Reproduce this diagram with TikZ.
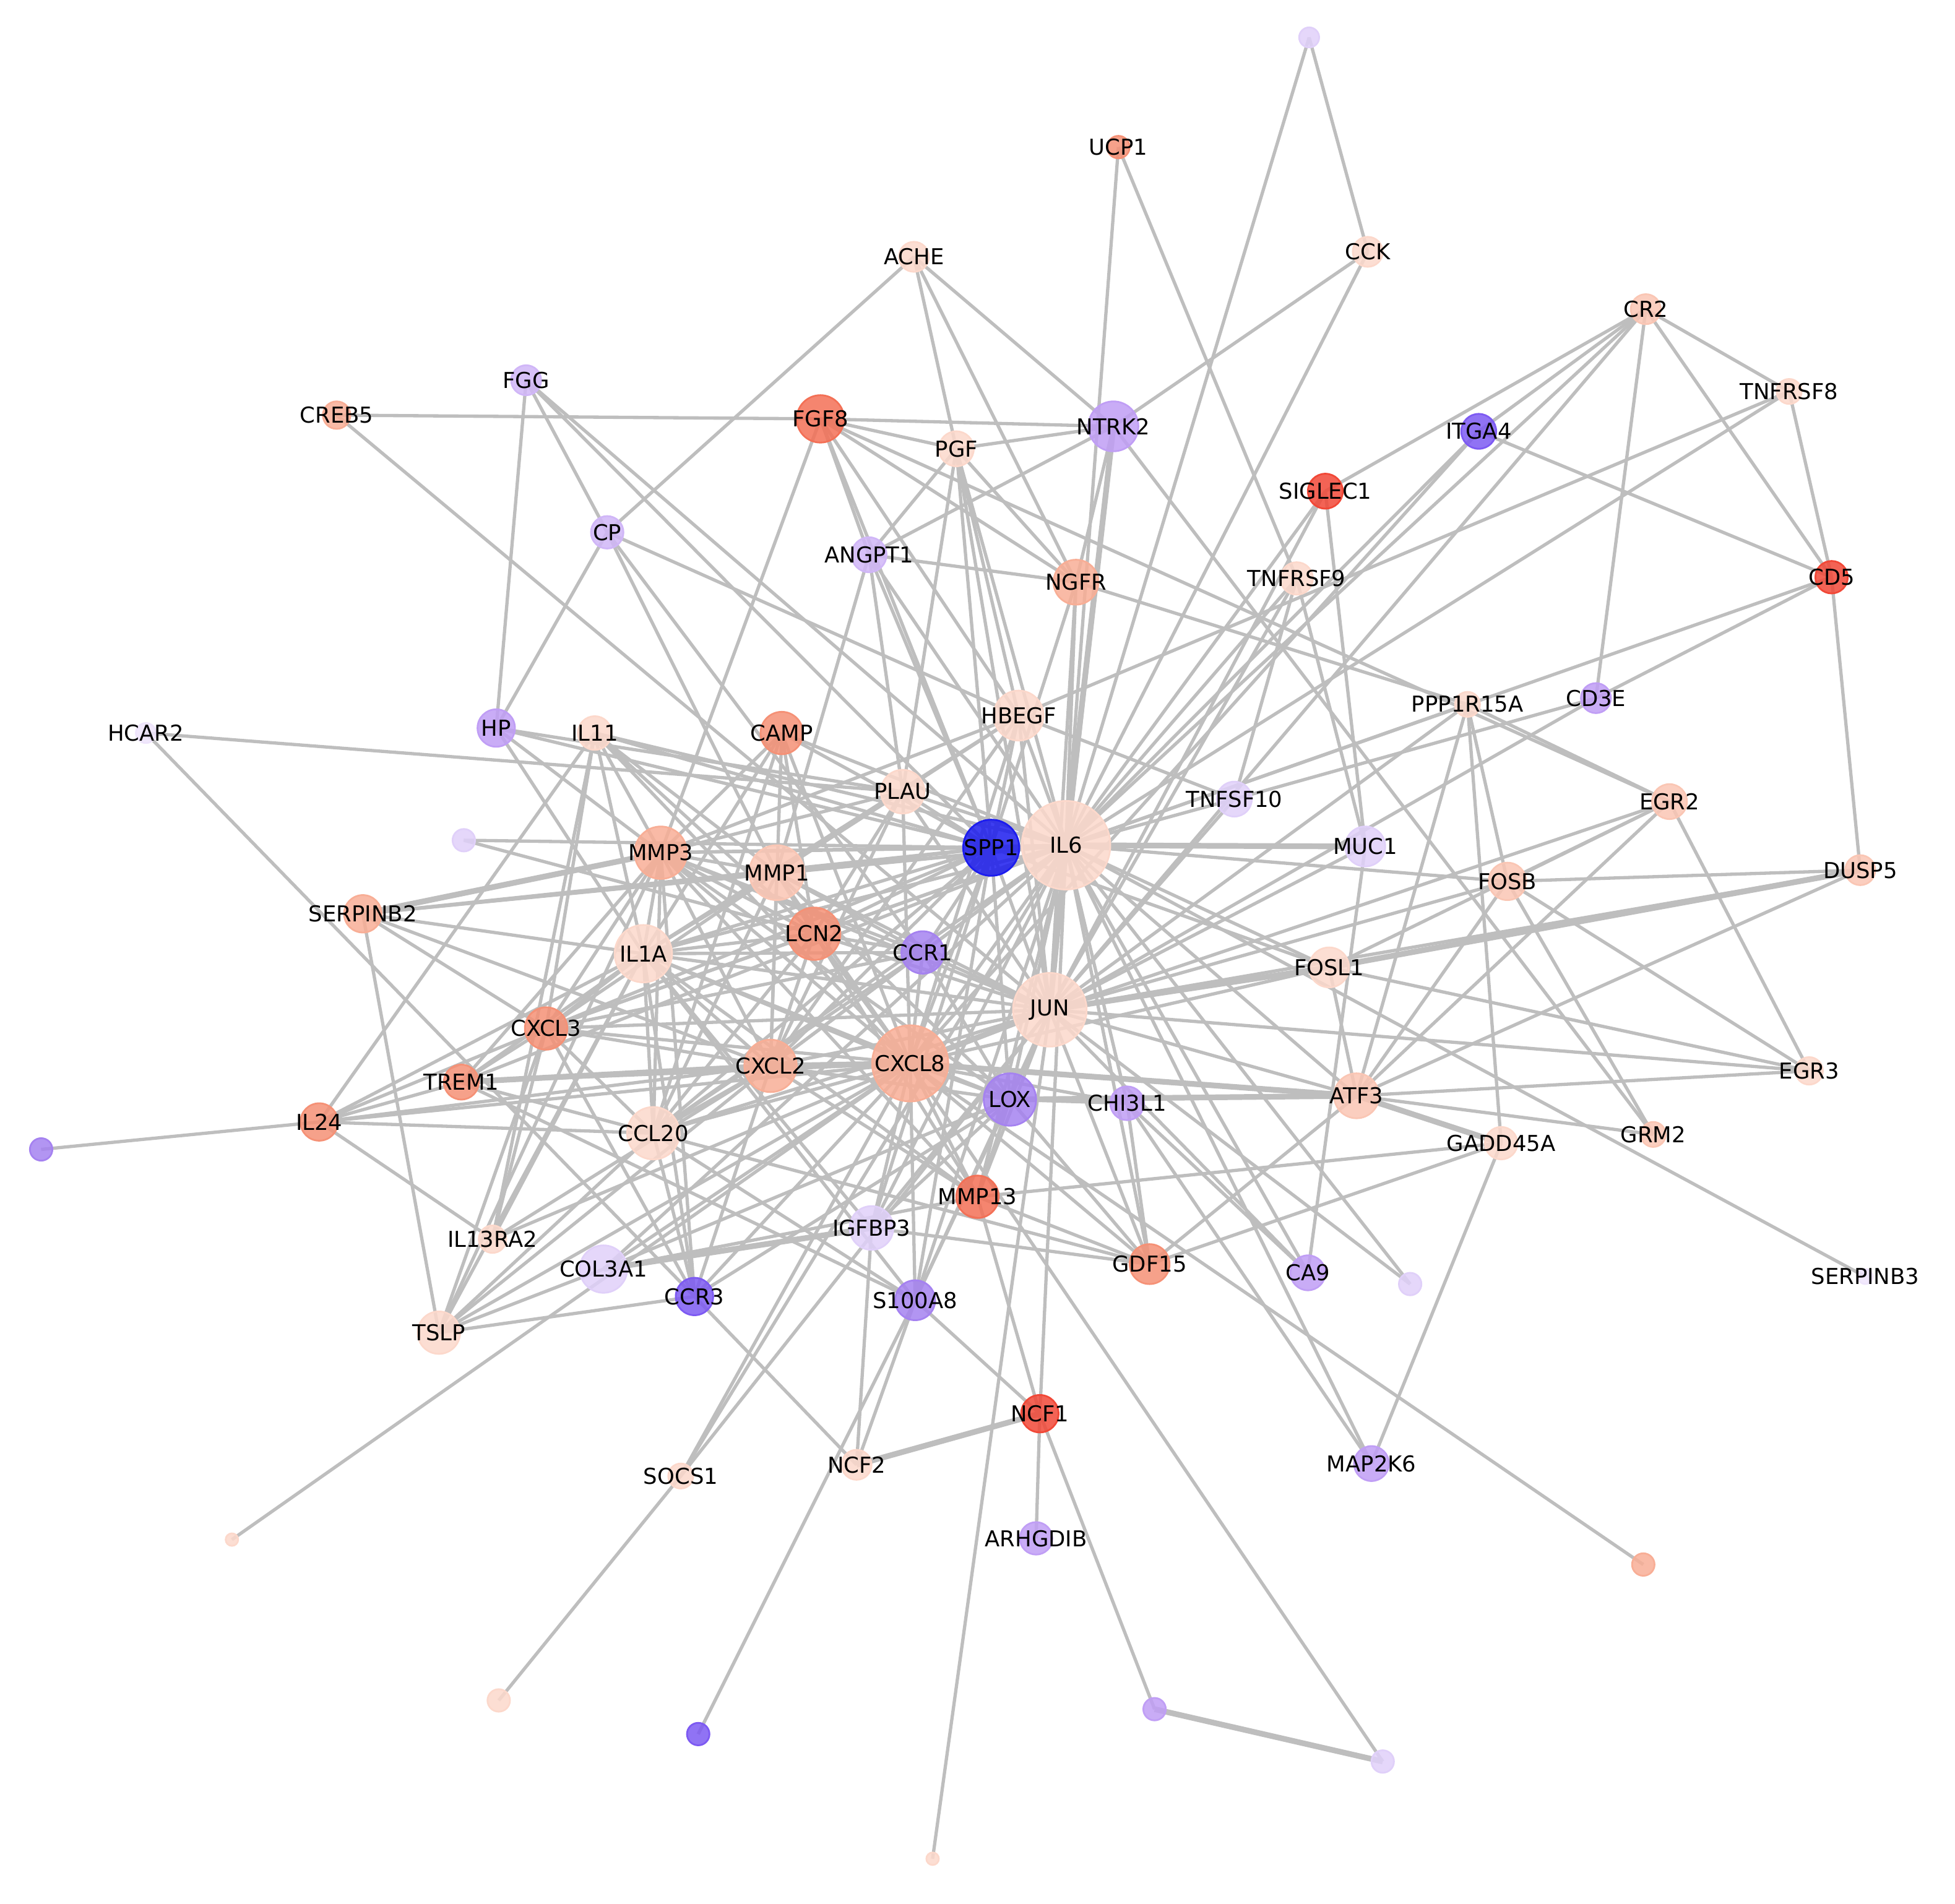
\documentclass[tikz,border=0pt]{standalone}
\usepackage{fontspec}
\setmainfont{DejaVu Sans}
\usetikzlibrary{positioning}
\definecolor{edgegray}{RGB}{190,190,190}
\definecolor{pkA}{RGB}{252,216,203}
\definecolor{pkB}{RGB}{250,198,180}
\definecolor{pkC}{RGB}{248,174,150}
\definecolor{pkD}{RGB}{245,145,118}
\definecolor{pkE}{RGB}{243,112,86}
\definecolor{pkF}{RGB}{241,72,55}
\definecolor{sppblue}{RGB}{28,28,238}
\definecolor{purA}{RGB}{125,90,242}
\definecolor{purB}{RGB}{165,130,240}
\definecolor{lavA}{RGB}{192,158,245}
\definecolor{lavB}{RGB}{208,182,247}
\definecolor{lavC}{RGB}{224,208,249}
\definecolor{lavD}{RGB}{238,228,251}

\pgfdeclarelayer{edges}
\pgfdeclarelayer{labels}
\pgfsetlayers{edges,main,labels}

% name, x, y, diameter, colour, label
\newcommand\gene[6]{%
  \node[gene,fill=#5,draw=#5,minimum size=#4*0.01cm] (#1) at (#2,#3) {};
  \begin{pgfonlayer}{labels}
    \node[genelabel] (#1-l) at (#1) {#6};
  \end{pgfonlayer}}

\begin{document}
\begin{tikzpicture}[x=0.01cm,y=-0.01cm,
    gene/.style={circle,inner sep=0pt,line width=0.4pt,fill opacity=0.85},
    genelabel/.style={inner sep=0pt,text=black,font=\fontsize{5}{6}\selectfont},
    link/.style={draw=edgegray,line width=0.75pt},
    heavylink/.style={draw=edgegray,line width=1.3pt}]
  \useasboundingbox (0,0) rectangle (1568,1527);

  % outer genes
  \gene{uTop}{1050}{30}{16}{lavC}{}
  \gene{UCP1}{897}{118}{18}{pkD}{UCP1}
  \gene{ACHE}{733}{206}{24}{pkA}{ACHE}
  \gene{CCK}{1097}{202}{24}{pkA}{CCK}
  \gene{CR2}{1320}{248}{24}{pkB}{CR2}
  \gene{TNFRSF8}{1435}{314}{20}{pkA}{TNFRSF8}
  \gene{FGG}{422}{305}{24}{lavB}{FGG}
  \gene{CREB5}{270}{333}{22}{pkC}{CREB5}
  \gene{FGF8}{658}{336}{38}{pkE}{FGF8}
  \gene{PGF}{767}{360}{28}{pkA}{PGF}
  \gene{NTRK2}{893}{342}{40}{lavA}{NTRK2}
  \gene{ITGA4}{1186}{346}{28}{purA}{ITGA4}
  \gene{SIGLEC1}{1063}{394}{28}{pkF}{SIGLEC1}
  \gene{CP}{487}{427}{26}{lavB}{CP}
  \gene{ANGPT1}{697}{445}{28}{lavB}{ANGPT1}
  \gene{NGFR}{863}{467}{36}{pkC}{NGFR}
  \gene{TNFRSF9}{1040}{464}{26}{pkA}{TNFRSF9}
  \gene{CD5}{1469}{463}{26}{pkF}{CD5}
  \gene{HCAR2}{117}{588}{16}{lavD}{HCAR2}
  \gene{HP}{398}{584}{30}{lavA}{HP}
  \gene{IL11}{477}{588}{27}{pkA}{IL11}
  \gene{CAMP}{627}{588}{34}{pkD}{CAMP}
  \gene{HBEGF}{817}{574}{40}{pkA}{HBEGF}
  \gene{PPP1R15A}{1177}{565}{20}{pkA}{PPP1R15A}
  \gene{CD3E}{1280}{560}{24}{lavA}{CD3E}
  \gene{PLAU}{724}{635}{35}{pkA}{PLAU}
  \gene{TNFSF10}{990}{641}{28}{lavC}{TNFSF10}
  \gene{EGR2}{1339}{643}{28}{pkB}{EGR2}
  \gene{uMid}{372}{674}{18}{lavC}{}
  \gene{MUC1}{1095}{679}{32}{lavC}{MUC1}
  \gene{DUSP5}{1492}{698}{24}{pkB}{DUSP5}
  \gene{FOSB}{1209}{707}{30}{pkB}{FOSB}
  \gene{SERPINB2}{291}{733}{30}{pkC}{SERPINB2}
  \gene{FOSL1}{1066}{776}{32}{pkA}{FOSL1}
  \gene{EGR3}{1451}{859}{22}{pkA}{EGR3}
  \gene{TREM1}{370}{868}{28}{pkD}{TREM1}
  \gene{CHI3L1}{904}{885}{27}{lavA}{CHI3L1}
  \gene{ATF3}{1088}{879}{36}{pkB}{ATF3}
  \gene{IL24}{256}{900}{30}{pkD}{IL24}
  \gene{GRM2}{1326}{910}{20}{pkB}{GRM2}
  \gene{GADD45A}{1204}{917}{26}{pkA}{GADD45A}
  \gene{uL}{33}{922}{18}{purB}{}
  \gene{MMP13}{784}{960}{34}{pkE}{MMP13}
  \gene{IGFBP3}{699}{985}{35}{lavC}{IGFBP3}
  \gene{IL13RA2}{395}{994}{22}{pkA}{IL13RA2}
  \gene{GDF15}{922}{1014}{32}{pkD}{GDF15}
  \gene{COL3A1}{484}{1018}{38}{lavC}{COL3A1}
  \gene{CA9}{1049}{1021}{28}{lavA}{CA9}
  \gene{uR}{1131}{1030}{18}{lavC}{}
  \gene{SERPINB3}{1496}{1024}{12}{lavD}{SERPINB3}
  \gene{CCR3}{557}{1040}{30}{purA}{CCR3}
  \gene{S100A8}{734}{1043}{32}{purB}{S100A8}
  \gene{TSLP}{352}{1069}{34}{pkA}{TSLP}
  \gene{NCF1}{834}{1134}{30}{pkF}{NCF1}
  \gene{SOCS1}{546}{1184}{20}{pkA}{SOCS1}
  \gene{NCF2}{687}{1175}{24}{pkA}{NCF2}
  \gene{MAP2K6}{1100}{1174}{28}{lavA}{MAP2K6}
  \gene{ARHGDIB}{831}{1234}{26}{lavA}{ARHGDIB}
  \gene{uBfive}{186}{1235}{10}{pkA}{}
  \gene{uBR}{1318}{1255}{18}{pkC}{}
  \gene{uBfour}{400}{1364}{18}{pkA}{}
  \gene{uBsix}{560}{1391}{18}{purA}{}
  \gene{uBone}{926}{1371}{18}{lavA}{}
  \gene{uBtwo}{1109}{1413}{18}{lavC}{}
  \gene{uBthree}{748}{1491}{10}{pkA}{}
  % hub genes
  \gene{MMP3}{530}{684}{42}{pkC}{MMP3}
  \gene{MMP1}{623}{700}{44}{pkB}{MMP1}
  \gene{LCN2}{653}{749}{42}{pkD}{LCN2}
  \gene{IL1A}{516}{765}{46}{pkA}{IL1A}
  \gene{CCR1}{740}{764}{34}{purB}{CCR1}
  \gene{CXCL3}{438}{825}{34}{pkD}{CXCL3}
  \gene{CXCL2}{618}{855}{42}{pkC}{CXCL2}
  \gene{CCL20}{524}{909}{42}{pkA}{CCL20}
  \gene{LOX}{810}{882}{42}{purB}{LOX}
  \gene{JUN}{842}{810}{59}{pkA}{JUN}
  \gene{CXCL8}{730}{853}{61}{pkC}{CXCL8}
  \gene{SPP1}{795}{680}{45}{sppblue}{SPP1}
  \gene{IL6}{855}{678}{71}{pkA}{IL6}

  \begin{pgfonlayer}{edges}
    % outer links
    \foreach \a/\b in {uTop/CCK, uTop/IL6, UCP1/IL6, UCP1/TNFRSF9, CCK/NTRK2, CCK/IL6,
        ACHE/CP, ACHE/PGF, ACHE/NTRK2, ACHE/NGFR,
        CR2/TNFRSF8, CR2/CD5, CR2/CD3E, CR2/SIGLEC1, CR2/ITGA4, CR2/IL6, CR2/JUN,
        TNFRSF8/CD5, TNFRSF8/HBEGF, TNFRSF8/IL6,
        CD5/ITGA4, CD5/DUSP5, CD5/CD3E, CD5/IL6, ITGA4/IL6, ITGA4/CXCL8,
        SIGLEC1/MUC1, SIGLEC1/IL6, SIGLEC1/JUN,
        TNFRSF9/TNFSF10, TNFRSF9/IL6, TNFRSF9/JUN, TNFRSF9/MUC1,
        FGG/HP, FGG/CP, FGG/SPP1, FGG/IL6,
        CP/HP, CP/MMP1, CP/CCR1, CP/HBEGF, CREB5/FGF8, CREB5/JUN,
        FGF8/NTRK2, FGF8/PGF, FGF8/ANGPT1, FGF8/NGFR, FGF8/HBEGF, FGF8/SPP1, FGF8/MMP3, FGF8/EGR2,
        PGF/ANGPT1, PGF/NTRK2, PGF/NGFR, PGF/HBEGF, PGF/SPP1, PGF/IL6, PGF/JUN, PGF/PLAU,
        NTRK2/ANGPT1, NTRK2/NGFR, NTRK2/JUN, NTRK2/GRM2,
        ANGPT1/NGFR, ANGPT1/MMP1, ANGPT1/PLAU, ANGPT1/SPP1, ANGPT1/IL6,
        NGFR/PPP1R15A, NGFR/IL6, NGFR/JUN, NGFR/SPP1,
        HCAR2/PLAU, HCAR2/CCR3, HP/SPP1, HP/PLAU, HP/MMP3, HP/IL1A,
        uMid/SPP1, uMid/LCN2,
        IL11/IL24, IL11/CXCL3, IL11/IL1A, IL11/MMP3, IL11/MMP1, IL11/LCN2, IL11/SPP1,
        IL11/IL6, IL11/CXCL8, IL11/IL13RA2,
        CAMP/MMP3, CAMP/IL1A, CAMP/CXCL2, CAMP/LCN2, CAMP/CXCL8, CAMP/SPP1, CAMP/IL6, CAMP/CCL20,
        HBEGF/SPP1, HBEGF/IL6, HBEGF/JUN, HBEGF/MMP3, HBEGF/MMP1, HBEGF/IL1A, HBEGF/CXCL8,
        HBEGF/TNFSF10, HBEGF/CXCL2,
        TNFSF10/IL6, TNFSF10/JUN, TNFSF10/CD3E,
        PPP1R15A/EGR2, PPP1R15A/GADD45A, PPP1R15A/ATF3, PPP1R15A/FOSB, PPP1R15A/IL6, PPP1R15A/JUN,
        CD3E/JUN, MUC1/CA9, MUC1/JUN,
        DUSP5/FOSB, DUSP5/JUN, DUSP5/ATF3,
        EGR2/FOSB, EGR2/FOSL1, EGR2/ATF3, EGR2/JUN, EGR2/EGR3,
        EGR3/FOSB, EGR3/ATF3, EGR3/JUN, EGR3/FOSL1, GRM2/FOSB, GRM2/ATF3, SERPINB3/IL6,
        FOSB/IL6, FOSB/JUN, FOSB/ATF3, FOSL1/IL6, FOSL1/ATF3, FOSL1/CXCL8, FOSL1/SPP1,
        ATF3/JUN, ATF3/IL6, ATF3/GDF15,
        GADD45A/MAP2K6, GADD45A/MMP13, GADD45A/GDF15, MAP2K6/CHI3L1, MAP2K6/IL6,
        CA9/CHI3L1, CA9/IL6, CA9/JUN, uR/IL6, uR/JUN,
        CHI3L1/LOX, CHI3L1/IL6, CHI3L1/CXCL8, CHI3L1/GDF15,
        GDF15/IL6, GDF15/JUN, GDF15/CXCL8, GDF15/MMP13, GDF15/LOX, GDF15/CCL20, GDF15/IGFBP3,
        NCF1/ARHGDIB, NCF1/uBone, NCF1/IL6, NCF1/S100A8, NCF1/MMP13,
        uBtwo/CXCL8, uBthree/JUN, uBR/CXCL8,
        NCF2/CCR3, NCF2/IGFBP3, NCF2/S100A8, uBsix/S100A8,
        SOCS1/uBfour, SOCS1/IL6, SOCS1/CXCL8, SOCS1/JUN, uBfive/CXCL8, uL/IL24}
      \draw[link] (\a.center) -- (\b.center);
    % lower and left links
    \foreach \a/\b in {LOX/IL6, LOX/JUN, LOX/CXCL8, LOX/CCR1, LOX/MMP13, LOX/S100A8, LOX/IGFBP3,
        LOX/COL3A1, LOX/CCR3, LOX/MMP3, LOX/MMP1, LOX/IL1A, LOX/CXCL2, LOX/SPP1,
        MMP13/IL6, MMP13/JUN, MMP13/CXCL8, MMP13/MMP3, MMP13/MMP1, MMP13/IL1A, MMP13/COL3A1, MMP13/CXCL2,
        IGFBP3/IL6, IGFBP3/JUN, IGFBP3/CXCL8, IGFBP3/SPP1, IGFBP3/IL1A,
        COL3A1/CXCL8, COL3A1/IL6, COL3A1/TSLP,
        CCR3/TSLP, CCR3/CXCL8, CCR3/CXCL2, CCR3/CCL20, CCR3/IL1A, CCR3/MMP3, CCR3/CXCL3,
        S100A8/IL6, S100A8/JUN, S100A8/CXCL8, S100A8/SPP1, S100A8/IL1A, S100A8/CCL20, S100A8/TREM1,
        TSLP/SERPINB2, TSLP/CXCL3, TSLP/IL1A, TSLP/CCL20, TSLP/CXCL2, TSLP/CXCL8, TSLP/MMP3,
        IL13RA2/IL24, IL13RA2/CXCL3, IL13RA2/IL1A, IL13RA2/CXCL2, IL13RA2/CXCL8,
        IL24/CXCL3, IL24/TREM1, IL24/CCL20, IL24/CXCL2, IL24/CXCL8, IL24/IL1A,
        TREM1/CXCL3, TREM1/CXCL8, TREM1/MMP3, TREM1/CCL20, TREM1/IL1A, TREM1/IL6,
        SERPINB2/MMP1, SERPINB2/SPP1, SERPINB2/IL1A, SERPINB2/CXCL3, SERPINB2/CXCL2, SERPINB2/IL6}
      \draw[link] (\a.center) -- (\b.center);
    % hub links
    \foreach \a/\b in {CXCL3/IL1A, CXCL3/MMP3, CXCL3/MMP1, CXCL3/LCN2, CXCL3/CXCL2, CXCL3/CXCL8,
        CXCL3/CCL20, CXCL3/SPP1, CXCL3/IL6, CXCL3/JUN, CXCL3/CCR1,
        PLAU/SPP1, PLAU/IL6, PLAU/MMP3, PLAU/MMP1, PLAU/IL1A, PLAU/CXCL8, PLAU/JUN, PLAU/LCN2, PLAU/CXCL2,
        MMP3/MMP1, MMP3/LCN2, MMP3/IL1A, MMP3/SPP1, MMP3/IL6, MMP3/JUN, MMP3/CXCL2, MMP3/CXCL8,
        MMP3/CCL20, MMP3/CCR1,
        MMP1/LCN2, MMP1/IL1A, MMP1/SPP1, MMP1/IL6, MMP1/JUN, MMP1/CXCL2, MMP1/CXCL8, MMP1/CCL20, MMP1/CCR1,
        LCN2/IL1A, LCN2/SPP1, LCN2/IL6, LCN2/JUN, LCN2/CXCL2, LCN2/CXCL8, LCN2/CCL20, LCN2/CCR1,
        IL1A/SPP1, IL1A/IL6, IL1A/JUN, IL1A/CXCL2, IL1A/CXCL8, IL1A/CCL20, IL1A/CCR1,
        CCR1/SPP1, CCR1/IL6, CCR1/JUN, CCR1/CXCL2, CCR1/CXCL8, CCR1/CCL20,
        CXCL2/SPP1, CXCL2/IL6, CXCL2/JUN, CXCL2/CCL20,
        CXCL8/SPP1, CXCL8/IL6, CXCL8/CCL20, CCL20/SPP1, CCL20/IL6, CCL20/JUN,
        SPP1/IL6, SPP1/JUN}
      \draw[link] (\a.center) -- (\b.center);
    \foreach \a/\b in {NTRK2/IL6, MUC1/IL6, DUSP5/FOSL1, FOSL1/JUN, ATF3/LOX, ATF3/CXCL8,
        ATF3/GADD45A, NCF1/NCF2, uBone/uBtwo, IGFBP3/COL3A1, TREM1/CXCL2, SERPINB2/MMP3,
        CXCL2/CXCL8, CXCL8/JUN, IL6/JUN}
      \draw[heavylink] (\a.center) -- (\b.center);
  \end{pgfonlayer}
\end{tikzpicture}
\end{document}
